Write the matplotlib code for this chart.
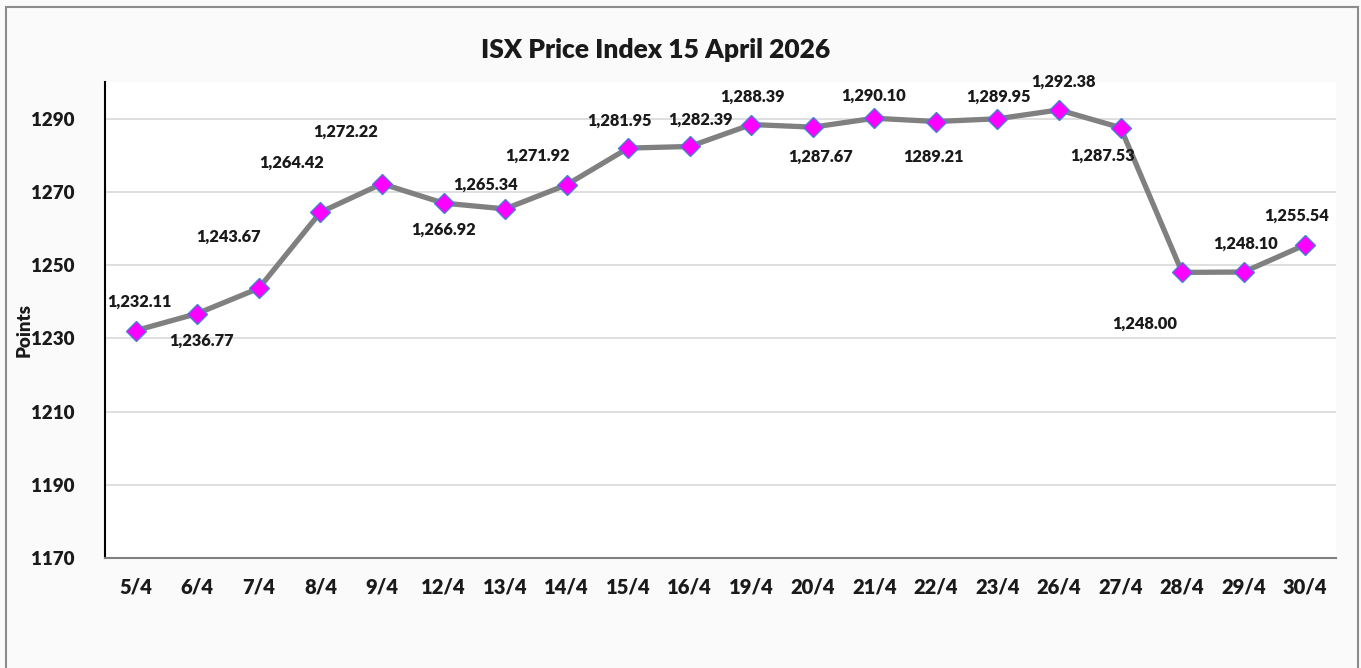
import matplotlib
matplotlib.use('Agg')
import matplotlib.pyplot as plt
import numpy as np
from matplotlib.patches import Rectangle

dates = ['5/4', '6/4', '7/4', '8/4', '9/4', '12/4', '13/4', '14/4', '15/4', '16/4',
         '19/4', '20/4', '21/4', '22/4', '23/4', '26/4', '27/4', '28/4', '29/4', '30/4']
index_values = [1232.11, 1236.77, 1243.67, 1264.42, 1272.22, 1266.92, 1265.34, 1271.92,
                1281.95, 1282.39, 1288.39, 1287.67, 1290.10, 1289.21, 1289.95, 1292.38,
                1287.53, 1248.00, 1248.10, 1255.54]
value_labels = ['1,232.11', '1,236.77', '1,243.67', '1,264.42', '1,272.22', '1,266.92',
                '1,265.34', '1,271.92', '1,281.95', '1,282.39', '1,288.39', '1,287.67',
                '1,290.10', '1289.21', '1,289.95', '1,292.38', '1,287.53', '1,248.00',
                '1,248.10', '1,255.54']
y_ticks = [1170, 1190, 1210, 1230, 1250, 1270, 1290]

# label offsets in pixels (dx, dy), screen y upward
offsets = [(4, 29), (4, -27), (-30, 52), (-29, 50), (-36, 52), (0, -27), (-20, 24),
           (-29, 29), (-9, 27), (11, 27), (1, 28), (8, -30), (-1, 23), (-2, -35),
           (1, 22), (4, 28), (-18, -28), (-37, -51), (2, 28), (-9, 29)]

plt.rcParams['font.family'] = ['Lato', 'DejaVu Sans']

fig = plt.figure(figsize=(13.61, 6.68), dpi=100)
fig.patch.set_facecolor('#fafafa')
fig.patches.append(Rectangle((6 / 1361, -0.01), 1352 / 1361, 1 - 7 / 668 + 0.01,
                             transform=fig.transFigure, fill=False,
                             edgecolor='#8c8c8c', linewidth=1.5))

ax = fig.add_axes([105 / 1361, 110 / 668, 1231 / 1361, 476 / 668])
ax.set_facecolor('white')

x = np.arange(len(dates))
ax.plot(x, index_values, color='#808080', linewidth=3.8, zorder=3,
        marker='D', markersize=10, markerfacecolor='#ff00ff',
        markeredgecolor='#4a7fd0', markeredgewidth=1.0)

for xi, yi, lab, (dx, dy) in zip(x, index_values, value_labels, offsets):
    ax.annotate(lab, (xi, yi), xytext=(dx, dy), textcoords='offset pixels',
                ha='center', va='center', fontsize=11.8, fontweight='heavy',
                color='#1a1a1a', zorder=4)

ax.set_xlim(-0.5, len(dates) - 0.5)
ax.set_ylim(1170, 1300)
ax.set_yticks(y_ticks)
ax.set_xticks(x)
ax.set_xticklabels(dates)
ax.tick_params(axis='both', length=0, colors='#1a1a1a')
ax.tick_params(axis='y', pad=22, labelsize=13.5)
ax.tick_params(axis='x', pad=14, labelsize=14.5)
for lab in ax.get_xticklabels() + ax.get_yticklabels():
    lab.set_fontweight('heavy')

ax.grid(axis='y', color='#d9d9d9', linewidth=1.2)
ax.set_axisbelow(True)
ax.spines['top'].set_visible(False)
ax.spines['right'].set_visible(False)
ax.spines['left'].set_color('black')
ax.spines['left'].set_linewidth(1.5)
ax.spines['bottom'].set_color('#808080')
ax.spines['bottom'].set_linewidth(1.5)

fig.text(24 / 1361, 1 - 330 / 668, 'Points', rotation=90, ha='center', va='center',
         fontsize=13.5, fontweight='heavy', color='#1a1a1a')
fig.text(656 / 1361, 1 - 50 / 668, 'ISX Price Index 15 April 2026', ha='center',
         va='center', fontsize=19, fontweight='heavy', color='#1a1a1a')

fig.savefig('out.png', dpi=100, facecolor=fig.get_facecolor())
